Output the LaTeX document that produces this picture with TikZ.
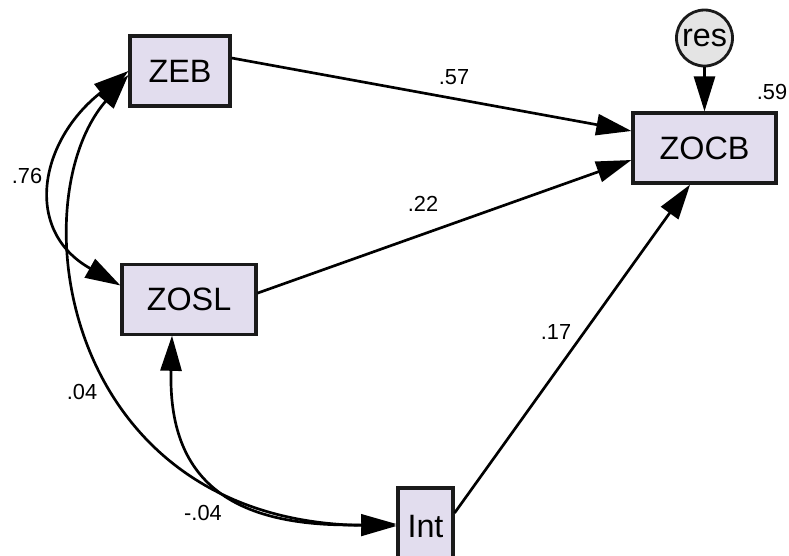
\documentclass[tikz,border=0pt]{standalone}
\usepackage{fontspec}
\setmainfont{Liberation Sans}
\usetikzlibrary{positioning, arrows.meta, calc}
\definecolor{boxfill}{HTML}{E2DDEE}
\definecolor{resfill}{HTML}{E4E4E4}
\definecolor{edgegray}{HTML}{1A1A1A}

\tikzset{
  obs/.style={draw=edgegray, line width=2.2pt, fill=boxfill, inner sep=0pt,
              font=\fontsize{23}{26}\selectfont},
  errvar/.style={circle, draw=edgegray, line width=2pt, fill=resfill, inner sep=0pt,
              minimum size=1.4cm, font=\fontsize{23}{26}\selectfont},
  coef/.style={font=\fontsize{15.5}{18}\selectfont, inner sep=0pt},
  regline/.style={line width=1.9pt, -{Triangle[length=25pt, width=15pt]}},
  covline/.style={line width=1.9pt, {Triangle[length=25pt, width=15pt]}-{Triangle[length=25pt, width=15pt]}}
}

\begin{document}
\begin{tikzpicture}[x=0.025cm, y=-0.025cm]
    \clip (0,0) rectangle (789,556);
    \fill[white] (0,0) rectangle (789,556);

    \node[obs, minimum width=2.5cm, minimum height=1.75cm] (zeb) at (180,71) {ZEB};
    \node[obs, minimum width=3.35cm, minimum height=1.73cm] (zosl) at (189,299.5) {ZOSL};
    \node[obs, minimum width=3.575cm, minimum height=1.75cm] (zocb) at (704.5,148) {ZOCB};
    \node[obs, minimum width=1.375cm, minimum height=1.9cm] (int) at (425.5,526) {Int};
    \node[errvar, above=1.1cm of zocb] (res) {res};

    \draw[regline] (res) -- (zocb);
    \draw[regline] ([yshift=0.325cm]zeb.east) -- ([yshift=0.425cm]zocb.west);
    \draw[regline] ([yshift=0.16cm]zosl.east) -- ([yshift=-0.3cm]zocb.west);
    \draw[regline] ([yshift=0.325cm]int.east) -- ([xshift=-0.36cm]zocb.south);

    \draw[covline] (zeb.west) .. controls (40,140) and (22,230) .. ([yshift=0.35cm]zosl.west);
    \draw[covline] ([yshift=-0.1cm]zeb.west) .. controls (20,200) and (60,520) .. ([yshift=0cm]int.west);
    \draw[covline] ([xshift=-0.425cm]zosl.south) .. controls (168,480) and (230,528) .. ([yshift=0.05cm]int.west);

    \node[coef] (c57) at (454,77) {.57};
    \node[coef] (c59) at (772,92) {.59};
    \node[coef] (c76) at (27,176) {.76};
    \node[coef] (c22) at (423,204) {.22};
    \node[coef] (c17) at (556,332) {.17};
    \node[coef] (c04) at (82,392) {.04};
    \node[coef] (cm04) at (203,513) {-.04};
\end{tikzpicture}
\end{document}
